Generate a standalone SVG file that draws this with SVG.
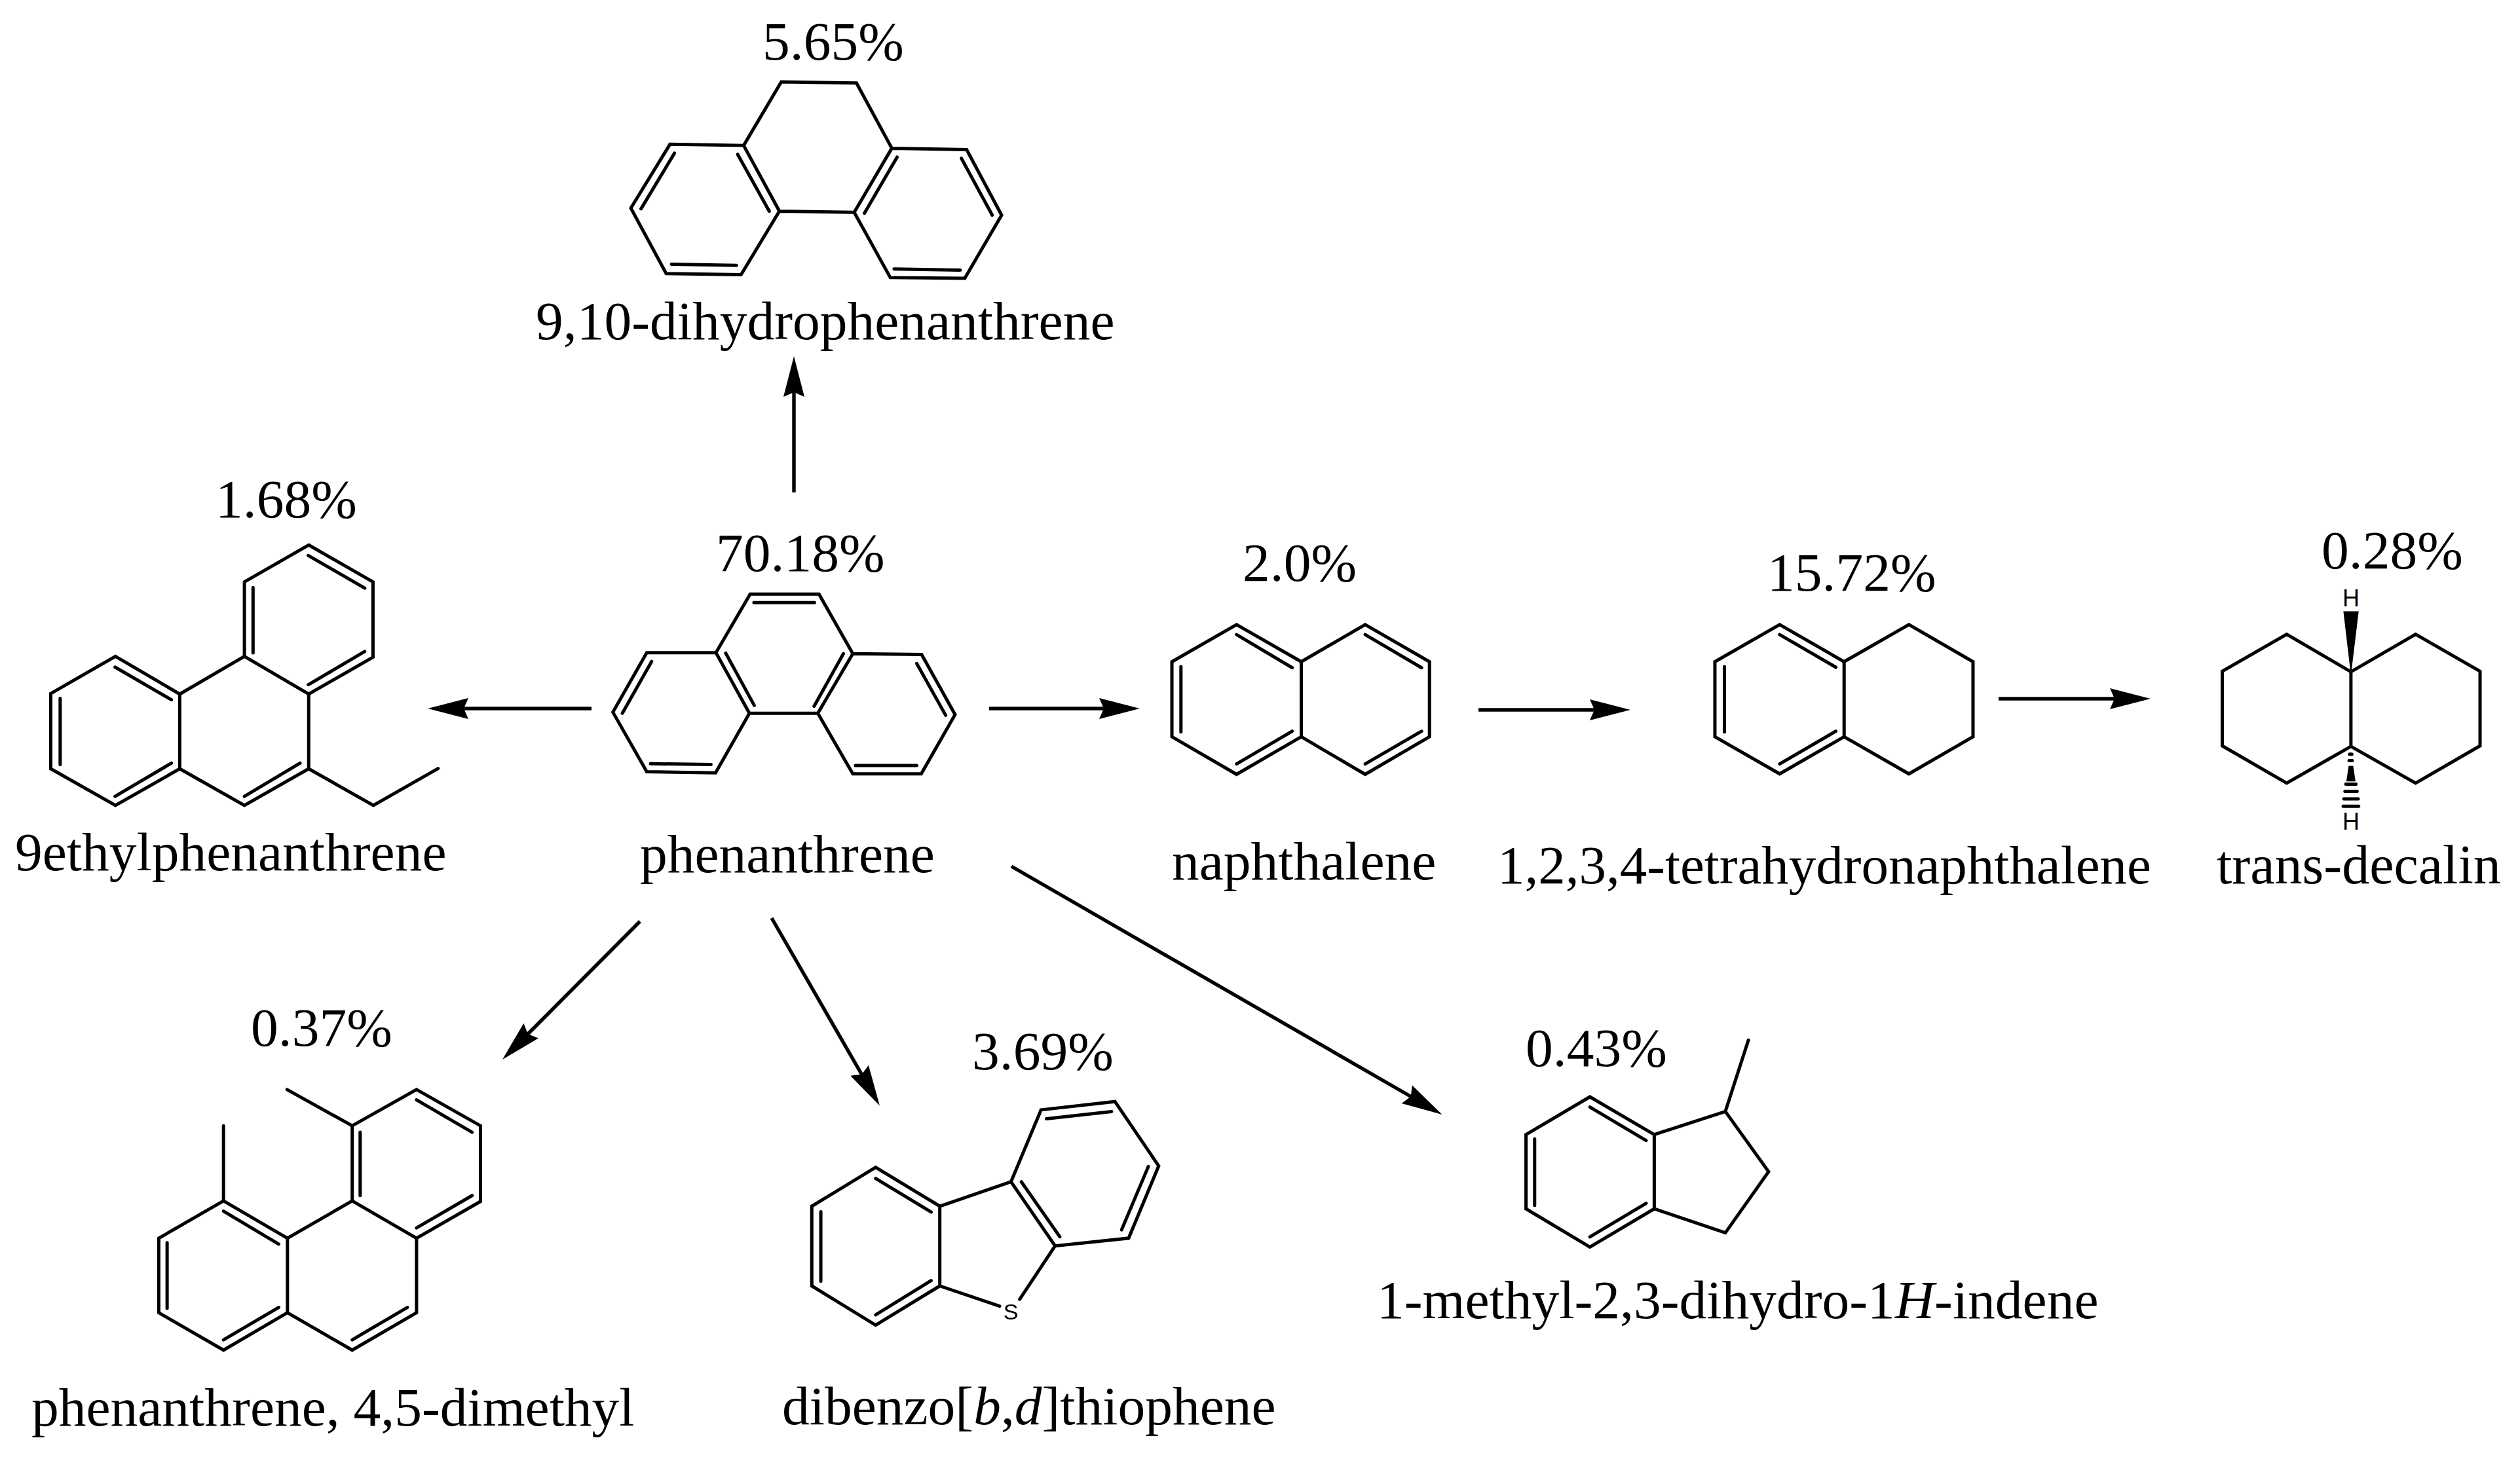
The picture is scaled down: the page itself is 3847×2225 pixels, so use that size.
<svg xmlns="http://www.w3.org/2000/svg" width="3847" height="2225" viewBox="0 0 3847 2225">
<style>
text{font-family:"Liberation Serif","Times New Roman",serif;font-size:83.5px;fill:#000}
.t84{font-size:84px}
.t83{font-size:83px}
.atom{font-family:"Liberation Sans",Arial,sans-serif;font-size:36px;text-anchor:middle}
.bond{fill:none;stroke:#000;stroke-width:5;stroke-linejoin:miter;stroke-linecap:round;vector-effect:non-scaling-stroke}
.conn{fill:none;stroke:#000;stroke-width:5.4;marker-end:url(#head)}
</style>
<defs>
<marker id="head" markerUnits="userSpaceOnUse" viewBox="0 -17 62 34" markerWidth="62" markerHeight="34" refX="28" refY="0" orient="auto"><path d="M0,-16L62,0L0,16L7,0Z" fill="#000"/></marker>
</defs>
<rect width="3847" height="2225" fill="#fff"/>
<g id="connectors">
<path class="conn" d="M1212,752V578"/>
<path class="conn" d="M903,1082H687"/>
<path class="conn" d="M1510,1082H1706"/>
<path class="conn" d="M2257,1084H2455"/>
<path class="conn" d="M3051,1067H3249"/>
<path class="conn" d="M977,1407L791,1594"/>
<path class="conn" d="M1178,1402L1326,1659"/>
<path class="conn" d="M1544,1323L2172,1685"/>
</g>
<g id="dihydrophenanthrene">
<g transform="translate(850,0) scale(.574,.3571)">
<path class="bond" d="M497,622L597,350L797,355L891,634M301,617L497,622L592,903L490,1175L291,1170L197,890ZM891,634L1090,640L1183,920L1085,1190L887,1187L791,908ZM592,903L791,908M313,655L224,893M481,660L565,903M305,1130L478,1135M905,672L818,912M1076,677L1158,920M897,1150L1073,1155"/>
</g>
<text x="1164" y="91">5.65%</text>
<text x="818" y="518">9,10-dihydrophenanthrene</text>
</g>
<g id="ethylphenanthrene">
<g transform="translate(0,700) scale(.574,.4337)">
<path class="bond" d="M821,305L992,435L992,700L821,830L650,697L650,435ZM307,697L478,830L478,1093L307,1222L135,1093L135,828ZM478,830L650,697M821,830L821,1093L650,1222L478,1093M821,1093L993,1222L1165,1092M820,342L970,457M673,455L673,685M970,680L820,797M306,735L456,850M160,845L160,1078M306,1190L456,1073M798,1073L650,1190"/>
</g>
<text x="329" y="790">1.68%</text>
<text x="23" y="1329">9ethylphenanthrene</text>
</g>
<g id="phenanthrene">
<g transform="translate(880,780) scale(.574,.3954)">
<path class="bond" d="M462,322L645,322L735,552L642,782L460,782L371,548ZM371,548L187,548L97,778L187,1008L370,1012L460,782M735,552L918,555L1007,787L917,1016L735,1016L642,782M472,355L633,355M397,550L473,752M710,552L632,755M200,582L122,782M905,590L982,790M197,977L358,980M742,984L905,984"/>
</g>
<text x="1093" y="872">70.18%</text>
<text x="977" y="1332">phenanthrene</text>
</g>
<g id="naphthalene">
<g transform="translate(1750,820) scale(.574,.3699)">
<path class="bond" d="M240,362L412,515L412,825L240,980L68,825L68,515ZM412,515L582,362L753,515L753,825L582,980L412,825M240,403L388,540M92,535L92,805M240,937L388,802M582,403L732,540M732,802L582,937"/>
</g>
<text x="1897" y="887">2.0%</text>
<text x="1789" y="1343">naphthalene</text>
</g>
<g id="tetrahydronaphthalene">
<g transform="translate(2600,820) scale(.4847,.3699)">
<path class="bond" d="M241,362L444,515L444,825L241,978L37,825L37,515ZM444,515L648,362L850,515L850,825L648,978L444,825M241,403L418,538M67,535L67,805M241,937L418,802"/>
</g>
<text x="2698" y="902">15.72%</text>
<text class="t83" x="2286" y="1349">1,2,3,4-tetrahydronaphthalene</text>
</g>
<g id="trans-decalin">
<g transform="translate(3300,780) scale(.3489,.3954)">
<path class="bond" d="M547,477L828,622L828,910L547,1052L265,908L265,620ZM828,622L1111,477L1393,620L1393,908L1111,1052L828,910M794,1141H862M797,1113H860M802,1084H855M806,1056H850M822,940H832M820,965H834"/>
<path d="M795,388H862L830,622H826ZM808,1045H848L838,985H818Z" fill="#000"/>
</g>
<text class="atom" x="3589" y="926">H</text>
<text class="atom" x="3589" y="1267">H</text>
<text x="3544" y="868">0.28%</text>
<text class="t84" x="3384" y="1349">trans-decalin</text>
</g>
<g id="dimethylphenanthrene">
<g transform="translate(0,1520) scale(.6378,.4496)">
<path class="bond" d="M997,320L1150,443L1150,700L997,825L843,698L843,443ZM535,698L688,825L688,1078L535,1205L380,1078L380,825ZM688,825L843,698M997,825L997,1078L843,1205L688,1078M535,698L535,443M843,443L687,320M997,355L1130,465M862,465L862,680M1130,680L997,790M535,733L667,845M400,840L400,1063M535,1170L667,1060M975,1060L843,1170"/>
</g>
<text x="383" y="1597">0.37%</text>
<text x="48" y="2177">phenanthrene, 4,5-dimethyl</text>
</g>
<g id="dibenzothiophene">
<g transform="translate(1150,1560) scale(.5102,.4241)">
<path class="bond" d="M366,525L558,665L558,952L366,1093L175,952L175,665ZM861,318L1082,288L1213,520L1123,780L903,808L771,577ZM558,665L771,577M558,952L737,1025M903,808L797,1000M366,565L532,686M202,685L202,935M366,1056L532,933M877,350L1072,324M1182,522L1102,750M917,775L802,577"/>
</g>
<text class="atom" x="1543" y="2015" style="font-size:34px">S</text>
<text x="1484" y="1633">3.69%</text>
<text x="1194" y="2175">dibenzo[<tspan font-style="italic">b</tspan>,<tspan font-style="italic">d</tspan>]thiophene</text>
</g>
<g id="methylindane">
<g transform="translate(2100,1560) scale(.7334,.3333)">
<path class="bond" d="M446,345L580,518L580,858L446,1033L313,858L313,518ZM580,518L728,412L818,688L728,968L580,858M728,412L776,85M446,392L563,545M331,538L331,842M446,987L563,833"/>
</g>
<text x="2329" y="1628">0.43%</text>
<text x="2102" y="2013">1-methyl-2,3-dihydro-1<tspan font-style="italic">H</tspan>-indene</text>
</g>
</svg>
